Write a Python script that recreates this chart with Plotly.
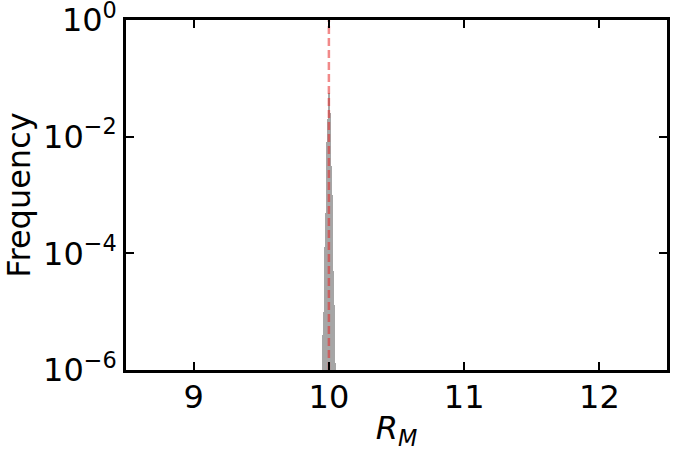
"""Histogram of R_M around the nominal value, log frequency."""
import plotly.graph_objects as go

# bin centres (width 0.005) and frequencies
bin_centers = [9.9525, 9.9575, 9.9625, 9.9675, 9.9725, 9.9775, 9.9825, 9.9875, 9.9925, 9.9975,
               10.0025, 10.0075, 10.0125, 10.0175, 10.0225, 10.0275, 10.0325, 10.0375, 10.0425, 10.0475]
frequency = [1.3e-6, 4e-6, 1e-5, 3.2e-5, 1.3e-4, 5e-4, 2.5e-3, 8e-3, 2e-2, 5e-2,
             5.6e-2, 2.5e-2, 1e-2, 3.2e-3, 1e-3, 2.5e-4, 5e-5, 1.3e-5, 4e-6, 1.3e-6]
bin_width = 0.005
true_value = 10.0

x_ticks = [9, 10, 11, 12]
y_ticks = [1e-6, 1e-4, 1e-2, 1e0]
y_tick_text = ["10<sup>−6</sup>", "10<sup>−4</sup>", "10<sup>−2</sup>", "10<sup>0</sup>"]

FONT = "DejaVu Sans"

fig = go.Figure()
fig.add_trace(
    go.Bar(
        x=bin_centers,
        y=frequency,
        width=bin_width,
        marker=dict(color="#a6a6a6", line=dict(width=0)),
        showlegend=False,
    )
)
fig.add_trace(
    go.Scatter(
        x=[true_value, true_value],
        y=[1e-6, 1e0],
        mode="lines",
        line=dict(color="rgba(230,40,40,0.55)", width=2.5, dash="8px,4px"),
        showlegend=False,
    )
)

axis_common = dict(
    showline=True,
    linecolor="black",
    linewidth=2.5,
    mirror="ticks",
    ticks="inside",
    ticklen=8,
    tickwidth=1.5,
    tickcolor="black",
    showgrid=False,
    zeroline=False,
    automargin=False,
    ticklabeloverflow="allow",
    tickfont=dict(family=FONT, size=32, color="black"),
)

fig.update_xaxes(
    range=[8.5, 12.5],
    tickvals=x_ticks,
    ticklabelstandoff=-3,
    title=dict(text="<i>R</i><sub><i>M</i></sub>", font=dict(family=FONT, size=32, color="black"), standoff=2),
    **axis_common,
)
fig.update_yaxes(
    type="log",
    range=[-6.0001, 0.0001],
    tickvals=y_ticks,
    ticktext=y_tick_text,
    title=dict(text="Frequency", font=dict(family=FONT, size=32, color="black"), standoff=6),
    **axis_common,
)
fig.update_layout(
    width=675,
    height=456,
    margin=dict(l=126, r=8, t=20, b=86),
    plot_bgcolor="white",
    paper_bgcolor="white",
    bargap=0,
)
# drop the page's default body margin so the figure sits at the window's corner
fig.write_html(
    "out.html",
    config={"displayModeBar": False},
    post_script="document.body.style.margin='0';",
)
